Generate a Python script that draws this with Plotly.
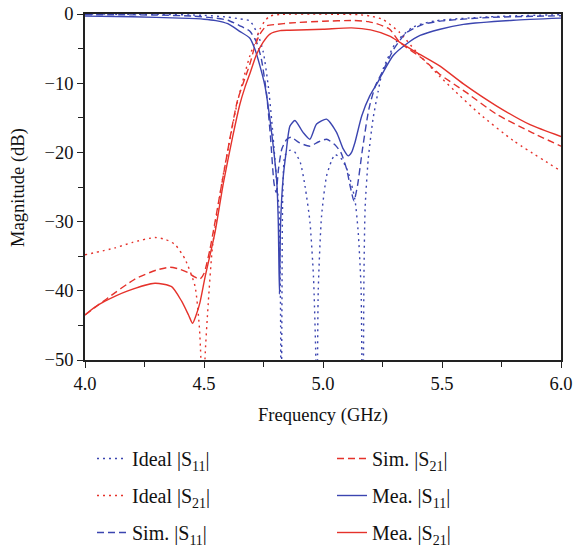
import plotly.graph_objects as go

# ---------------- data (frequency in GHz, magnitude in dB) ----------------
ideal_s11_f = [4.00, 4.30, 4.50, 4.60, 4.65, 4.693, 4.728, 4.749, 4.770, 4.784, 4.798, 4.808,
               4.815, 4.819, 4.822, 4.824, 4.827, 4.831, 4.840, 4.860, 4.880, 4.905, 4.925,
               4.945, 4.960, 4.970, 4.974, 4.980, 4.994, 5.015, 5.036, 5.050, 5.079, 5.106,
               5.134, 5.148, 5.160, 5.167, 5.172, 5.177, 5.190, 5.210, 5.231, 5.252, 5.307,
               5.377, 5.470, 5.700, 6.000]
ideal_s11_db = [-0.02, -0.05, -0.2, -0.45, -0.7, -1.0, -3.1, -5.5, -10.4, -15.2, -21.0, -25.3,
                -28.0, -34.0, -45.0, -70.0, -45.0, -26.0, -20.5, -19.7, -19.9, -21.5, -25.0,
                -30.0, -38.0, -50.0, -70.0, -40.0, -29.2, -23.4, -21.2, -20.3, -21.0, -22.9,
                -26.8, -31.6, -39.8, -70.0, -38.0, -28.0, -21.0, -15.2, -11.3, -8.0, -4.1,
                -1.9, -1.0, -0.4, -0.1]

ideal_s21_f = [4.000, 4.126, 4.200, 4.294, 4.340, 4.378, 4.420, 4.462, 4.480, 4.487, 4.495,
               4.504, 4.518, 4.536, 4.577, 4.640, 4.693, 4.714, 4.735, 4.756, 4.777, 4.830,
               5.000, 5.150, 5.200, 5.252, 5.323, 5.393, 5.490, 5.550, 5.660, 5.800, 6.000]
ideal_s21_db = [-34.8, -33.8, -33.0, -32.3, -32.6, -33.3, -35.4, -39.3, -45.0, -50.0, -70.0,
                -50.0, -41.7, -33.5, -24.0, -12.8, -6.0, -4.1, -2.2, -1.0, -0.3, -0.05,
                -0.02, -0.1, -0.3, -0.8, -2.7, -5.5, -9.0, -11.0, -14.5, -18.3, -22.7]

sim_s11_f = [4.00, 4.30, 4.45, 4.55, 4.60, 4.651, 4.693, 4.721, 4.741, 4.762, 4.779, 4.794,
             4.803, 4.813, 4.827, 4.848, 4.866, 4.900, 4.945, 4.980, 5.015, 5.050, 5.075,
             5.100, 5.115, 5.130, 5.145, 5.166, 5.193, 5.220, 5.255, 5.297, 5.350, 5.420,
             5.500, 5.700, 6.000]
sim_s11_db = [-0.1, -0.15, -0.3, -0.6, -0.9, -1.7, -2.5, -4.1, -6.5, -11.3, -17.6, -24.4,
              -25.8, -22.4, -19.5, -18.1, -17.8, -18.6, -19.1, -18.5, -18.1, -18.9, -20.0,
              -22.5, -25.0, -27.0, -24.8, -19.5, -13.7, -10.4, -8.0, -5.1, -2.7, -1.5,
              -1.0, -0.5, -0.25]

sim_s21_f = [4.000, 4.050, 4.097, 4.210, 4.300, 4.357, 4.400, 4.434, 4.460, 4.483, 4.500, 4.525,
             4.575, 4.640, 4.693, 4.714, 4.735, 4.763, 4.805, 4.861, 5.000, 5.127, 5.190,
             5.225, 5.280, 5.323, 5.420, 5.490, 5.600, 5.730, 5.870, 6.000]
sim_s21_db = [-43.5, -42.2, -41.0, -38.3, -37.0, -36.6, -36.9, -37.4, -38.0, -38.3, -37.5, -34.0,
              -24.5, -12.6, -7.2, -4.6, -2.9, -1.7, -1.5, -1.3, -1.05, -0.94, -1.1,
              -1.4, -2.2, -4.1, -6.5, -8.7, -11.3, -14.5, -17.0, -19.1]

mea_s11_f = [4.00, 4.20, 4.40, 4.50, 4.55, 4.60, 4.65, 4.693, 4.714, 4.735, 4.756, 4.777,
             4.794, 4.806, 4.812, 4.817, 4.822, 4.833, 4.845, 4.861, 4.882, 4.916, 4.945,
             4.973, 5.015, 5.057, 5.085, 5.106, 5.120, 5.134, 5.163, 5.197, 5.226, 5.253,
             5.295, 5.352, 5.408, 5.492, 5.590, 5.800, 6.000]
mea_s11_db = [-0.3, -0.4, -0.6, -0.75, -0.95, -1.4, -2.5, -3.5, -5.1, -7.5, -10.4, -15.2,
              -20.0, -24.4, -30.0, -40.5, -30.0, -23.5, -20.0, -16.2, -15.4, -17.1, -18.1,
              -15.9, -15.2, -17.1, -19.5, -20.5, -20.0, -18.6, -14.7, -11.8, -10.1, -8.4,
              -6.0, -4.3, -3.1, -2.2, -1.5, -0.9, -0.6]

mea_s21_f = [4.000, 4.040, 4.084, 4.180, 4.294, 4.364, 4.406, 4.435, 4.452, 4.467, 4.483, 4.504,
             4.546, 4.581, 4.620, 4.651, 4.672, 4.693, 4.720, 4.748, 4.777, 4.820, 4.861,
             5.000, 5.120, 5.200, 5.280, 5.323, 5.390, 5.490, 5.590, 5.730, 5.870, 6.000]
mea_s21_db = [-43.5, -42.4, -41.5, -40.0, -38.9, -39.4, -41.5, -43.5, -44.7, -43.5, -41.7, -38.1,
              -31.6, -24.5, -17.8, -13.0, -10.6, -8.6, -5.9, -4.1, -2.9, -2.4, -2.35,
              -2.2, -2.0, -2.3, -3.2, -4.1, -5.5, -7.5, -10.1, -13.3, -16.0, -17.7]

x_ticks = [4.0, 4.5, 5.0, 5.5, 6.0]
y_ticks = [0, -10, -20, -30, -40, -50]

BLUE = "#3b45b0"
RED = "#e5322b"
DOT = "2px,4px"
DASH = "7px,4px"
FONT = "Liberation Serif"

series = [
    ("Ideal |S<sub>11</sub>|", ideal_s11_f, ideal_s11_db, BLUE, DOT, "legend"),
    ("Ideal |S<sub>21</sub>|", ideal_s21_f, ideal_s21_db, RED, DOT, "legend"),
    ("Sim. |S<sub>11</sub>|", sim_s11_f, sim_s11_db, BLUE, DASH, "legend"),
    ("Sim. |S<sub>21</sub>|", sim_s21_f, sim_s21_db, RED, DASH, "legend2"),
    ("Mea. |S<sub>11</sub>|", mea_s11_f, mea_s11_db, BLUE, "solid", "legend2"),
    ("Mea. |S<sub>21</sub>|", mea_s21_f, mea_s21_db, RED, "solid", "legend2"),
]

fig = go.Figure()
for i, (name, fx, fy, col, dash, lg) in enumerate(series):
    fig.add_trace(go.Scatter(
        x=fx, y=fy, name=name, mode="lines",
        line=dict(color=col, width=1.4, dash=dash, shape="spline", smoothing=0.6),
        legend=lg, legendgroup="g%d" % i,
    ))

axis_common = dict(
    showline=True, linecolor="#222", linewidth=1.5, mirror=True,
    ticks="outside", ticklen=6, tickwidth=1.3, tickcolor="#222",
    showgrid=False, zeroline=False,
    tickfont=dict(family=FONT, size=18.5, color="#111"),
    title_font=dict(family=FONT, size=18.5, color="#111"),
)

fig.update_xaxes(
    range=[4.0, 6.0], tickvals=x_ticks, ticktext=["%.1f" % v for v in x_ticks],
    minor=dict(ticks="outside", ticklen=5, tickwidth=1.2, tickcolor="#222", dtick=0.25, tick0=4.0),
    title_text="Frequency (GHz)", **axis_common)
fig.update_yaxes(
    range=[-50, 0], tickvals=y_ticks,
    minor=dict(ticks="outside", ticklen=5, tickwidth=1.2, tickcolor="#222", dtick=5, tick0=0),
    **axis_common)

fig.add_annotation(
    text="Magnitude (dB)", xref="paper", yref="paper", x=-0.141, y=0.5,
    xanchor="center", yanchor="middle", textangle=-90, showarrow=False,
    font=dict(family=FONT, size=18.5, color="#111"),
)

legend_common = dict(
    orientation="v", xref="container", yref="container",
    xanchor="left", yanchor="top", bgcolor="rgba(0,0,0,0)",
    font=dict(family=FONT, size=20, color="#111"), tracegroupgap=8,
)
fig.update_layout(
    width=574, height=549,
    margin=dict(l=85, r=13, t=14, b=189, autoexpand=False),
    paper_bgcolor="white", plot_bgcolor="white",
    showlegend=True,
    legend=dict(x=92 / 574, y=1 - 439 / 549, **legend_common),
    legend2=dict(x=332 / 574, y=1 - 439 / 549, **legend_common),
)

fig.write_html("out.html", config={"displayModeBar": False},
               post_script="document.body.style.margin='0px';")
